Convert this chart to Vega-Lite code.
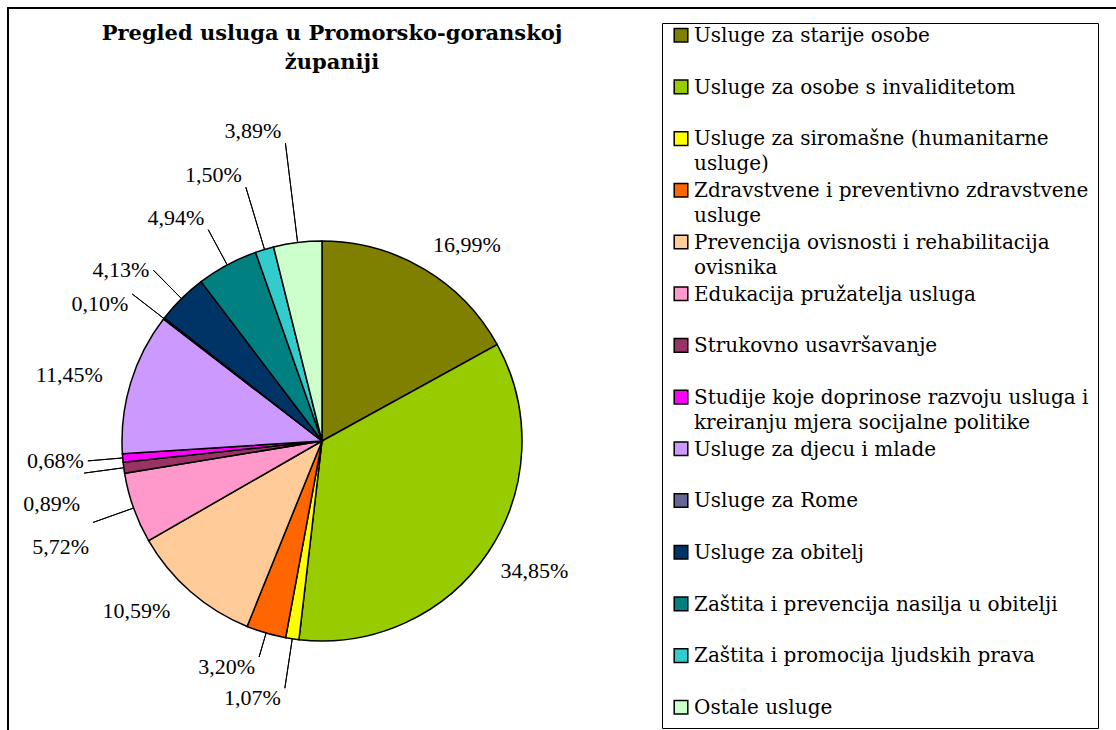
{
  "$schema": "https://vega.github.io/schema/vega-lite/v6.json",
  "width": 1116,
  "height": 742,
  "autosize": {"type": "none"},
  "padding": {"left": 8, "top": 8, "right": -8, "bottom": -20},
  "background": "white",
  "title": {
    "text": ["Pregled usluga u Promorsko-goranskoj", "županiji"],
    "orient": "top",
    "anchor": "start",
    "frame": "group",
    "align": "center",
    "dx": 324,
    "offset": -65,
    "font": "DejaVu Serif",
    "fontSize": 21,
    "fontWeight": "bold",
    "lineHeight": 29,
    "color": "black"
  },
  "data": {
    "values": [
      {"i": 1, "cat": "Usluge za starije osobe", "share": 0.1699},
      {"i": 2, "cat": "Usluge za osobe s invaliditetom", "share": 0.3485},
      {"i": 3, "cat": "Usluge za siromašne (humanitarne usluge)", "share": 0.0107},
      {"i": 4, "cat": "Zdravstvene i preventivno zdravstvene usluge", "share": 0.0320},
      {"i": 5, "cat": "Prevencija ovisnosti i rehabilitacija ovisnika", "share": 0.1059},
      {"i": 6, "cat": "Edukacija pružatelja usluga", "share": 0.0572},
      {"i": 7, "cat": "Strukovno usavršavanje", "share": 0.0089},
      {"i": 8, "cat": "Studije koje doprinose razvoju usluga i kreiranju mjera socijalne politike", "share": 0.0068},
      {"i": 9, "cat": "Usluge za djecu i mlade", "share": 0.1145},
      {"i": 10, "cat": "Usluge za Rome", "share": 0.0010},
      {"i": 11, "cat": "Usluge za obitelj", "share": 0.0413},
      {"i": 12, "cat": "Zaštita i prevencija nasilja u obitelji", "share": 0.0494},
      {"i": 13, "cat": "Zaštita i promocija ljudskih prava", "share": 0.0150},
      {"i": 14, "cat": "Ostale usluge", "share": 0.0389}
    ]
  },
  "encoding": {
    "theta": {"field": "share", "type": "quantitative", "stack": true},
    "order": {"field": "i", "type": "quantitative"},
    "x": {"value": 314},
    "y": {"value": 433}
  },
  "layer": [
    {
      "mark": {"type": "arc", "radius": 200, "stroke": "black", "strokeWidth": 1.5},
      "encoding": {
        "color": {
          "field": "cat",
          "type": "nominal",
          "scale": {
            "domain": [
              "Usluge za starije osobe",
              "Usluge za osobe s invaliditetom",
              "Usluge za siromašne (humanitarne usluge)",
              "Zdravstvene i preventivno zdravstvene usluge",
              "Prevencija ovisnosti i rehabilitacija ovisnika",
              "Edukacija pružatelja usluga",
              "Strukovno usavršavanje",
              "Studije koje doprinose razvoju usluga i kreiranju mjera socijalne politike",
              "Usluge za djecu i mlade",
              "Usluge za Rome",
              "Usluge za obitelj",
              "Zaštita i prevencija nasilja u obitelji",
              "Zaštita i promocija ljudskih prava",
              "Ostale usluge"
            ],
            "range": ["#808000", "#99CC00", "#FFFF00", "#FF6600", "#FFCC99", "#FF99CC", "#993366", "#FF00FF", "#CC99FF", "#666699", "#003366", "#008080", "#33CCCC", "#CCFFCC"]
          },
          "legend": {
            "orient": "none",
            "legendX": 654,
            "legendY": 15,
            "title": null,
            "symbolType": "M-1,-2H1V0H-1Z",
            "symbolSize": 185,
            "symbolStrokeColor": "black",
            "symbolStrokeWidth": 1.5,
            "symbolOpacity": 1,
            "labelFont": "DejaVu Serif",
            "labelFontSize": 20,
            "labelColor": "black",
            "labelLimit": 600,
            "labelOffset": 3,
            "labelBaseline": "alphabetic",
            "gridAlign": "all",
            "rowPadding": 5.7,
            "padding": 9,
            "strokeColor": "black",
            "fillColor": "white",
            "labelExpr": "datum.label == 'Usluge za siromašne (humanitarne usluge)' ? ['Usluge za siromašne (humanitarne', 'usluge)'] : datum.label == 'Zdravstvene i preventivno zdravstvene usluge' ? ['Zdravstvene i preventivno zdravstvene', 'usluge'] : datum.label == 'Prevencija ovisnosti i rehabilitacija ovisnika' ? ['Prevencija ovisnosti i rehabilitacija', 'ovisnika'] : datum.label == 'Studije koje doprinose razvoju usluga i kreiranju mjera socijalne politike' ? ['Studije koje doprinose razvoju usluga i', 'kreiranju mjera socijalne politike'] : datum.label"
          }
        }
      }
    },
    {
      "mark": {
        "type": "arc",
        "radius": {"expr": "[218,215,250,225,225,243,240,235,225,240,240,240,265,300][datum.i-1]"},
        "radius2": 200,
        "padAngle": 0.8,
        "fillOpacity": 0,
        "stroke": "black",
        "strokeWidth": 1
      },
      "encoding": {
        "strokeOpacity": {
          "condition": {"test": "indexof([3,4,6,7,8,10,11,12,13,14], datum.i) >= 0", "value": 1},
          "value": 0
        }
      }
    },
    {
      "mark": {
        "type": "text",
        "font": "Liberation Serif",
        "fontSize": 22,
        "color": "black",
        "radius": {"expr": "[218,215,250,225,225,243,240,235,225,240,240,240,265,300][datum.i-1]"},
        "align": {"expr": "datum.i <= 2 ? 'left' : 'right'"},
        "baseline": {"expr": "['bottom','top','top','top','middle','top','top','middle','middle','top','middle','bottom','bottom','bottom'][datum.i-1]"},
        "dx": {"expr": "datum.i <= 2 ? 0 : -4"},
        "dy": {"expr": "datum.i == 1 ? 4 : datum.i == 6 ? 15 : datum.i == 7 ? 21 : 0"}
      },
      "encoding": {
        "text": {"field": "share", "type": "quantitative", "format": ".2%"}
      }
    }
  ],
  "config": {
    "view": {"stroke": "black", "strokeWidth": 2},
    "locale": {"number": {"decimal": ",", "thousands": ".", "grouping": [3], "currency": ["", " €"]}},
    "style": {"guide-label": {"lineHeight": 25}}
  }
}
